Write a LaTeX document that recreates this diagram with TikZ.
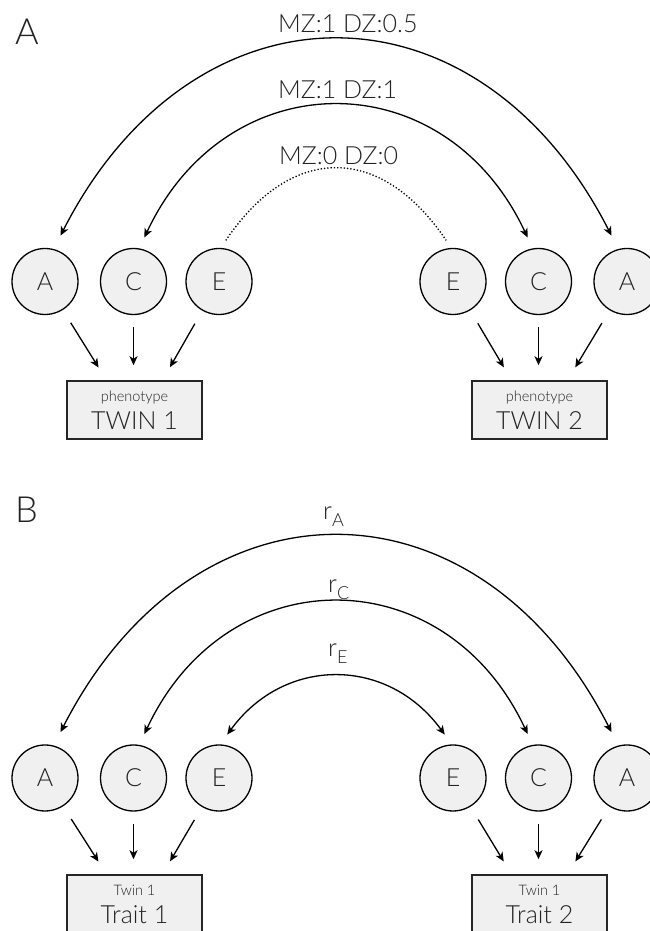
\documentclass[tikz,border=0pt]{standalone}
\usepackage{fontspec}
\setmainfont{Lato Light}
\usetikzlibrary{arrows.meta}
\definecolor{boxgray}{HTML}{F0F0F0}
\definecolor{txtgray}{HTML}{222222}
\tikzset{
  lat/.style={circle, draw=black, fill=boxgray, minimum size=66pt, inner sep=0pt,
    line width=1.3pt, text=txtgray, font=\fontsize{25}{25}\selectfont},
  obs/.style={rectangle, draw=black!85, fill=boxgray, minimum width=135pt, minimum height=58pt,
    inner sep=0pt, line width=1.5pt, align=center, text=txtgray, font=\fontsize{25}{28}\selectfont},
  arr/.style={-{Stealth[length=9pt,width=8pt,inset=2.5pt]}, line width=1.3pt},
  biarr/.style={{Stealth[length=9pt,width=8pt,inset=2.5pt]}-{Stealth[length=9pt,width=8pt,inset=2.5pt]}, line width=1.3pt},
  lbl/.style={anchor=base west, inner sep=0pt, text=txtgray, font=\fontsize{25}{25}\selectfont},
  panel/.style={anchor=base west, inner sep=0pt, text=txtgray, font=\fontsize{36}{36}\selectfont},
}
\newcommand{\rsub}[1]{r\raisebox{-7pt}{\fontsize{18}{18}\selectfont #1}}
\newcommand{\smalltxt}[1]{{\fontsize{14.5}{14.5}\selectfont #1}}
\begin{document}
\begin{tikzpicture}[x=1pt,y=1pt]
\useasboundingbox (0,0) rectangle (649,931);
% ---------- Panel A ----------
\node[panel] (pA) at (15,886) {A};
\node[lat] (A1) at (45,649.5) {A};
\node[lat] (C1) at (133.5,649.5) {C};
\node[lat] (E1) at (219,649.5) {E};
\node[lat] (E2) at (453,649.5) {E};
\node[lat] (C2) at (538.5,649.5) {C};
\node[lat] (A2) at (627,649.5) {A};
\node[obs] (T1) at (134.5,521) {\smalltxt{phenotype}\\TWIN 1};
\node[obs] (T2) at (539.5,521) {\smalltxt{phenotype}\\TWIN 2};
\node[lbl] (l1) at (278,898) {MZ:1 DZ:0.5};
\node[lbl] (l2) at (278,832) {MZ:1 DZ:1};
\node[lbl] (l3) at (279,766) {MZ:0 DZ:0};
\draw[biarr, shorten <=15pt, shorten >=15pt] (A1.75) .. controls +(63:309) and +(117:309) .. (A2.105);
\draw[biarr, shorten <=12pt, shorten >=12pt] (C1.80) .. controls +(65:207) and +(115:207) .. (C2.100);
\draw[line width=1.3pt, dotted, shorten <=9pt, shorten >=9pt] (E1.87) .. controls +(56:126) and +(124:126) .. (E2.93);
\draw[arr, shorten <=15pt, shorten >=15pt] (A1) -- ([xshift=-28pt]T1.north);
\draw[arr, shorten <=12pt, shorten >=15pt] (C1) -- ([xshift=-1pt]T1.north);
\draw[arr, shorten <=15pt, shorten >=15pt] (E1) -- ([xshift=28pt]T1.north);
\draw[arr, shorten <=15pt, shorten >=15pt] (E2) -- ([xshift=-28pt]T2.north);
\draw[arr, shorten <=12pt, shorten >=15pt] (C2) -- ([xshift=-1pt]T2.north);
\draw[arr, shorten <=15pt, shorten >=15pt] (A2) -- ([xshift=28pt]T2.north);
% ---------- Panel B ----------
\node[panel] (pB) at (15,408) {B};
\node[lat] (BA1) at (45,153) {A};
\node[lat] (BC1) at (133.5,153) {C};
\node[lat] (BE1) at (219,153) {E};
\node[lat] (BE2) at (453,153) {E};
\node[lat] (BC2) at (538.5,153) {C};
\node[lat] (BA2) at (627,153) {A};
\node[obs] (U1) at (134.5,27) {\smalltxt{Twin 1}\\Trait 1};
\node[obs] (U2) at (539.5,27) {\smalltxt{Twin 1}\\Trait 2};
\node[lbl] (rA) at (323,411) {\rsub{A}};
\node[lbl] (rC) at (328,338) {\rsub{C}};
\node[lbl] (rE) at (328,274) {\rsub{E}};
\draw[biarr, shorten <=15pt, shorten >=15pt] (BA1.75) .. controls +(63:309) and +(117:309) .. (BA2.105);
\draw[biarr, shorten <=12pt, shorten >=12pt] (BC1.80) .. controls +(65:207) and +(115:207) .. (BC2.100);
\draw[biarr, shorten <=12pt, shorten >=12pt] (BE1.88) .. controls +(54:109) and +(126:109) .. (BE2.92);
\draw[arr, shorten <=15pt, shorten >=15pt] (BA1) -- ([xshift=-28pt]U1.north);
\draw[arr, shorten <=12pt, shorten >=15pt] (BC1) -- ([xshift=-1pt]U1.north);
\draw[arr, shorten <=15pt, shorten >=15pt] (BE1) -- ([xshift=28pt]U1.north);
\draw[arr, shorten <=15pt, shorten >=15pt] (BE2) -- ([xshift=-28pt]U2.north);
\draw[arr, shorten <=12pt, shorten >=15pt] (BC2) -- ([xshift=-1pt]U2.north);
\draw[arr, shorten <=15pt, shorten >=15pt] (BA2) -- ([xshift=28pt]U2.north);
\end{tikzpicture}
\end{document}
